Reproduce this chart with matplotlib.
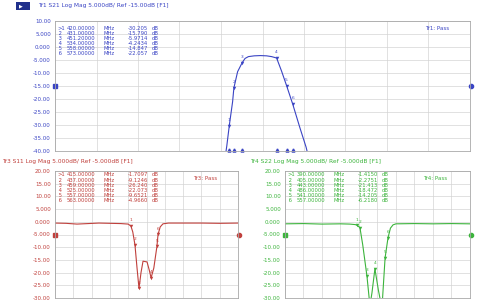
import numpy as np
import matplotlib
matplotlib.use("Agg")
import matplotlib.pyplot as plt
from matplotlib.patches import Rectangle
import matplotlib.transforms as mtransforms

# ---- data (MHz, dB) ----
s21_f = [380, 405, 414, 420, 428, 431, 440, 451.2, 458, 466, 480, 495, 510, 522, 534, 546, 558, 573, 590, 605, 615, 640]
s21_db = [-60, -48, -38, -30.2, -21, -15.8, -9.5, -5.97, -4.4, -3.7, -3.4, -3.3, -3.4, -3.7, -4.24, -9.3, -14.85, -22.06, -31, -38.5, -45, -60]
s21_mk_f = [420, 431, 451.2, 534, 558, 573]
s21_mk_db = [-30.205, -15.790, -5.9714, -4.2434, -14.847, -22.057]

s11_f = [0, 60, 120, 180, 240, 300, 360, 400, 415, 425, 437, 448, 459, 470, 481, 503, 515, 525, 540, 557, 563, 575, 590, 620, 700, 800, 900, 1000]
s11_db = [-0.5, -0.6, -0.9, -0.7, -0.5, -0.6, -0.7, -0.9, -1.71, -4.0, -9.12, -18, -26.24, -20, -15.5, -15.8, -19, -22.07, -18.2, -9.65, -4.97, -2.0, -0.8, -0.5, -0.5, -0.5, -0.6, -0.5]
s11_mk_f = [415, 437, 459, 525, 557, 563]
s11_mk_db = [-1.7097, -9.1246, -26.240, -22.073, -9.6521, -4.9660]

s22_f = [0, 100, 200, 300, 350, 380, 390, 405, 420, 443, 459, 470, 486, 505, 524, 541, 557, 570, 584, 600, 700, 800, 900, 1000]
s22_db = [-0.8, -0.7, -0.9, -0.8, -0.9, -1.1, -1.4, -2.28, -9.0, -21.4, -33, -28, -18.5, -27, -34, -14.2, -6.2, -2.5, -1.2, -0.8, -0.7, -0.8, -0.7, -0.8]
s22_mk_f = [390, 405, 443, 486, 541, 557]
s22_mk_db = [-1.4150, -2.2751, -21.413, -18.472, -14.205, -6.2180]

titles = ["Tr1 S21 Log Mag 5.000dB/ Ref -15.00dB [F1]",
          "Tr3 S11 Log Mag 5.000dB/ Ref -5.000dB [F1]",
          "Tr4 S22 Log Mag 5.000dB/ Ref -5.000dB [F1]"]
pass_txt = ["Tr1: Pass", "Tr3: Pass", "Tr4: Pass"]

W, H = 481, 300
fig = plt.figure(figsize=(W / 100, H / 100), dpi=100)
fig.patch.set_facecolor("white")

BLUE = "#3a44c4"
RED = "#c0403c"
GREEN = "#3cb43c"


def px_axes(x0, y0, x1, y1):
    return fig.add_axes([x0 / W, 1 - y1 / H, (x1 - x0) / W, (y1 - y0) / H])


def ptext(x, y, s, color, size=4.0, ha="left"):
    fig.text(x / W, 1 - y / H, s, color=color, fontsize=size, ha=ha, va="center")


def fmt(v):
    return f"{v:.2f}" if abs(v) >= 10 else f"{v:.3f}"


def panel(box, f, db, mk_f, mk_db, top, ref, color, title, tpos, ptxt, tbl):
    ax = px_axes(*box)
    ax.plot(f, db, color=color, lw=0.8)
    ax.plot(mk_f, mk_db, "v", color=color, ms=2.5, mew=0)
    for i, (mf, mv) in enumerate(zip(mk_f, mk_db)):
        ax.text(mf, mv + 1.5, str(i + 1), color=color, fontsize=3.2, ha="center", va="bottom")
    ax.set_xlim(0, 1000)
    ax.set_ylim(top - 50, top)
    ticks = np.arange(top, top - 51, -5)
    ax.set_yticks(ticks)
    ax.set_yticklabels([fmt(t) for t in ticks], color=color, fontsize=4)
    ax.set_xticks(np.arange(0, 1001, 100))
    ax.set_xticklabels([])
    ax.tick_params(length=0, pad=3)
    ax.grid(True, color="#d4d4d4", lw=0.5)
    for sp in ax.spines.values():
        sp.set_color("#a8a8a8")
        sp.set_linewidth(0.6)
    tr = mtransforms.blended_transform_factory(ax.transAxes, ax.transData)
    ax.plot([0], [ref], "s", color=color, ms=2.2, transform=tr, clip_on=False)
    ax.plot([1.003], [ref], "o", color=color, ms=3, transform=tr, clip_on=False)
    ptext(tpos[0], tpos[1], title, color, size=4.2)
    ptext(ptxt[0], ptxt[1], ptxt[2], color, size=4.0)
    x0, y0 = tbl
    for i, (mf, mv) in enumerate(zip(mk_f, mk_db)):
        y = y0 + i * 5.2
        ptext(x0, y, (">" if i == 0 else " ") + str(i + 1), color, 3.8)
        ptext(x0 + 10, y, f"{mf:.5f}", color, 3.8)
        ptext(x0 + 47, y, "MHz", color, 3.8)
        ptext(x0 + 91, y, f"{mv:.3f}" if abs(mv) >= 10 else f"{mv:.4f}", color, 3.8, ha="right")
        ptext(x0 + 95, y, "dB", color, 3.8)
    return ax


ax1 = panel((55, 21, 470, 151), s21_f, s21_db, s21_mk_f, s21_mk_db, 10, -15, BLUE,
            titles[0], (38, 6), (425, 29, pass_txt[0]), (57, 28))
trb = mtransforms.blended_transform_factory(ax1.transData, ax1.transAxes)
ax1.plot(s21_mk_f, [0.01] * len(s21_mk_f), "^", color=BLUE, ms=2.2, transform=trb, clip_on=False)

panel((55, 171, 238, 298), s11_f, s11_db, s11_mk_f, s11_mk_db, 20, -5, RED,
      titles[1], (2, 161), (193, 178, pass_txt[1]), (57, 175))
panel((285, 171, 470, 298), s22_f, s22_db, s22_mk_f, s22_mk_db, 20, -5, GREEN,
      titles[2], (250, 161), (423, 178, pass_txt[2]), (287, 175))

# trace selector icon
fig.patches.append(Rectangle((16 / W, 1 - 10 / H), 14 / W, 8 / H, transform=fig.transFigure,
                             facecolor="#20308c", edgecolor="none"))
ptext(19, 6, "\u25b6", "white", size=3.5)

fig.savefig("out.png", dpi=100)
